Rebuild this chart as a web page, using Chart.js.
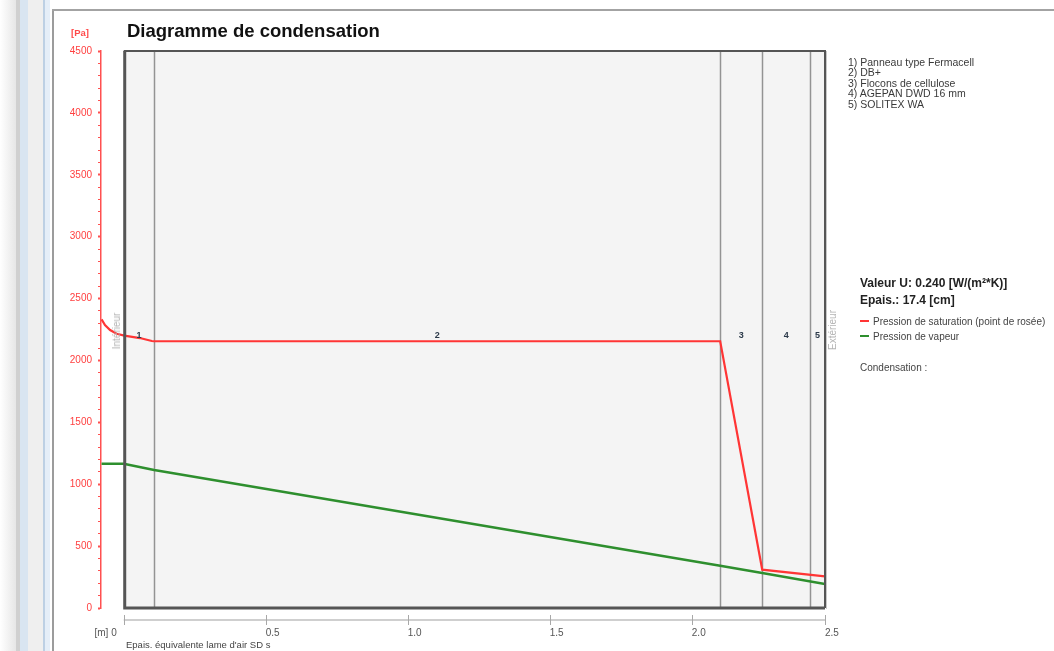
<!DOCTYPE html>
<html lang="fr">
<head>
<meta charset="utf-8">
<title>Diagramme de condensation</title>
<script src="https://cdn.jsdelivr.net/npm/chart.js@4/dist/chart.umd.min.js"></script>
<style>
  html, body { margin: 0; padding: 0; background: #ffffff; }
  body { width: 1054px; height: 651px; position: relative; overflow: hidden;
         font-family: "Liberation Sans", Arial, sans-serif; }
  .deco { position: absolute; }
  .t { position: absolute; white-space: nowrap; }
  #chartBox { position: absolute; left: 0; top: 0; width: 1054px; height: 651px; }
  .key { display: inline-block; width: 9px; height: 2px; vertical-align: middle; margin-right: 4px; position: relative; top: -1px; }
</style>
</head>
<body>
<!-- window chrome on the left and top edge of the panel -->
<div class="deco" style="left:0;top:0;width:16px;height:651px;background:linear-gradient(to right,#ffffff,#e6e6e6);"></div>
<div class="deco" style="left:16px;top:0;width:4px;height:651px;background:#d0d0d0;"></div>
<div class="deco" style="left:20px;top:0;width:8px;height:651px;background:#d9e5f1;"></div>
<div class="deco" style="left:28px;top:0;width:15px;height:651px;background:#efefef;"></div>
<div class="deco" style="left:43px;top:0;width:2px;height:651px;background:#bdd0e4;"></div>
<div class="deco" style="left:45px;top:0;width:5px;height:651px;background:#e5eef8;"></div>
<div class="deco" style="left:52px;top:10px;width:2px;height:641px;background:#9c9c9c;"></div>
<div class="deco" style="left:52px;top:9px;width:1002px;height:2px;background:#a3a3a3;"></div>

<div id="chartBox"><canvas id="chart" width="1054" height="651"></canvas></div>

<!-- titles and side panel -->
<div class="t" id="title" style="left:127px;font-size:18.5px;font-weight:bold;color:#111;">Diagramme de condensation</div>
<div class="t" id="unitY" style="left:71px;font-size:9.5px;font-weight:bold;color:#ff4a4a;">[Pa]</div>
<div id="layerList"></div>
<div class="t" id="uValue" style="left:860px;font-size:12px;font-weight:bold;color:#222;"></div>
<div class="t" id="thick" style="left:860px;font-size:12px;font-weight:bold;color:#222;"></div>
<div id="seriesKeys"></div>
<div class="t" id="condens" style="left:860px;font-size:10px;color:#444;">Condensation :</div>
<div class="t" id="xTitle" style="left:126px;font-size:9.5px;color:#444;">Epais. équivalente lame d'air SD s</div>
<div class="t" id="inside" style="font-size:10px;color:#b4b4b4;">Intérieur</div>
<div class="t" id="outside" style="font-size:10px;color:#b4b4b4;">Extérieur</div>

<script>
// ---- wall build-up (equivalent air layer thickness Sd, m) ----
const layerNames = [
  '1) Panneau type Fermacell',
  '2) DB+',
  '3) Flocons  de cellulose',
  '4) AGEPAN DWD 16 mm',
  '5) SOLITEX WA'
];
const layerNumbers = ['1', '2', '3', '4', '5'];
const layerEdges = [0, 0.107, 2.100, 2.248, 2.417, 2.469];

// saturation pressure (dew point), Pa
const satX = [-0.078, -0.066, -0.048, -0.025, 0.002, 0.057, 0.099, 0.107, 2.100, 2.248, 2.469];
const satY = [2332, 2286, 2246, 2216, 2200, 2181, 2157, 2155, 2155, 310, 255];

// vapour pressure, Pa
const vapX = [-0.078, 0.000, 0.107, 2.100, 2.248, 2.469];
const vapY = [1165, 1165, 1115, 342, 283, 194];

// axis ticks
const xTickValues = [0, 0.5, 1.0, 1.5, 2.0, 2.469];
const xTickLabels = ['[m] 0', '0.5', '1.0', '1.5', '2.0', '2.5'];
const yMin = 0, yMax = 4500, yMinorStep = 100, yMajorStep = 500;
const xMin = -0.08;

const seriesNames = ['Pression de saturation (point de rosée)', 'Pression de vapeur'];
const seriesColors = ['#ff3535', '#2e8f2e'];
const uValueText = 'Valeur U: 0.240 [W/(m²*K)]';
const thicknessText = 'Epais.: 17.4 [cm]';

// place a text element so that its alphabetic baseline sits at y
function atBaseline(el, y) {
  const fs = parseFloat(el.style.fontSize);
  el.style.lineHeight = fs + 'px';
  el.style.top = (y - 0.8465 * fs) + 'px';
}
function addText(parent, txt, x, y, fs, color) {
  const d = document.createElement('div');
  d.className = 't';
  d.style.left = x + 'px';
  d.style.fontSize = fs + 'px';
  d.style.color = color;
  d.textContent = txt;
  parent.appendChild(d);
  atBaseline(d, y);
  return d;
}

atBaseline(document.getElementById('title'), 38);
atBaseline(document.getElementById('unitY'), 36);
document.getElementById('uValue').textContent = uValueText;
document.getElementById('thick').textContent = thicknessText;
atBaseline(document.getElementById('uValue'), 287);
atBaseline(document.getElementById('thick'), 304);
atBaseline(document.getElementById('condens'), 371);
atBaseline(document.getElementById('xTitle'), 648);

const list = document.getElementById('layerList');
layerNames.forEach((n, i) => addText(list, n, 848, 65.5 + i * 10.6, 10.5, '#3a3a3a'));

const keys = document.getElementById('seriesKeys');
seriesNames.forEach((n, i) => {
  const d = addText(keys, '', 860, 325.5 + i * 14.5, 10, '#444');
  const sw = document.createElement('span');
  sw.className = 'key';
  sw.style.background = seriesColors[i];
  d.appendChild(sw);
  d.appendChild(document.createTextNode(n));
});

function rotated(id, cx, cy) {
  const el = document.getElementById(id);
  el.style.left = cx + 'px';
  el.style.top = cy + 'px';
  el.style.lineHeight = '10px';
  el.style.transform = 'translate(-50%,-50%) rotate(-90deg)';
}
rotated('inside', 117, 331);
rotated('outside', 833, 330);

// wall frame, layer interfaces, layer numbers and the Sd axis
const wallPlugin = {
  id: 'wallPlugin',
  beforeDatasetsDraw(chart) {
    const { ctx, scales: { x, y } } = chart;
    const L = x.getPixelForValue(layerEdges[0]);
    const R = x.getPixelForValue(layerEdges[layerEdges.length - 1]);
    const T = y.getPixelForValue(yMax);
    const B = y.getPixelForValue(yMin);
    ctx.save();
    ctx.fillStyle = '#f4f4f4';
    ctx.fillRect(L, T, R - L, B - T);
    ctx.strokeStyle = '#939393';
    ctx.lineWidth = 1.5;
    layerEdges.slice(1, -1).forEach(e => {
      const px = Math.round(x.getPixelForValue(e)) + 0.5;
      ctx.beginPath(); ctx.moveTo(px, T); ctx.lineTo(px, B); ctx.stroke();
    });
    ctx.restore();
  },
  afterDatasetsDraw(chart) {
    const { ctx, scales: { x, y } } = chart;
    const L = x.getPixelForValue(layerEdges[0]);
    const R = x.getPixelForValue(layerEdges[layerEdges.length - 1]);
    const T = y.getPixelForValue(yMax);
    const B = y.getPixelForValue(yMin);
    ctx.save();
    // frame
    ctx.strokeStyle = '#555555';
    ctx.lineWidth = 2;
    ctx.beginPath(); ctx.moveTo(L, T); ctx.lineTo(R, T); ctx.lineTo(R, B); ctx.stroke();
    ctx.lineWidth = 3;
    ctx.beginPath(); ctx.moveTo(L + 1, T); ctx.lineTo(L + 1, B); ctx.lineTo(R, B); ctx.stroke();
    ctx.strokeStyle = '#c8c8c8';
    ctx.lineWidth = 1;
    ctx.beginPath(); ctx.moveTo(R + 1.5, T); ctx.lineTo(R + 1.5, B + 1); ctx.stroke();

    // layer numbers
    ctx.font = 'bold 9px "Liberation Sans", Arial, sans-serif';
    ctx.fillStyle = '#2c3a4a';
    ctx.textAlign = 'center';
    ctx.textBaseline = 'middle';
    const ly = y.getPixelForValue(2200);
    layerNumbers.forEach((n, i) => {
      const cx = (x.getPixelForValue(layerEdges[i]) + x.getPixelForValue(layerEdges[i + 1])) / 2;
      ctx.fillText(n, cx, ly);
    });

    // Sd axis line with tick marks
    const ay = B + 12;
    ctx.strokeStyle = '#cfcfcf';
    ctx.lineWidth = 2;
    ctx.beginPath(); ctx.moveTo(L, ay); ctx.lineTo(R, ay); ctx.stroke();
    ctx.strokeStyle = '#a8a8a8';
    ctx.lineWidth = 1;
    xTickValues.forEach(v => {
      const px = Math.round(x.getPixelForValue(v)) + 0.5;
      ctx.beginPath(); ctx.moveTo(px, ay - 5); ctx.lineTo(px, ay + 5); ctx.stroke();
    });
    // first tick label sits left of its tick
    ctx.font = '10px "Liberation Sans", Arial, sans-serif';
    ctx.fillStyle = '#555';
    ctx.textAlign = 'right';
    ctx.fillText(xTickLabels[0], x.getPixelForValue(xTickValues[0]) - 7, B + 25);
    ctx.restore();
  }
};

const toPoints = (xs, ys) => xs.map((v, i) => ({ x: v, y: ys[i] }));

new Chart(document.getElementById('chart'), {
  type: 'line',
  data: {
    datasets: [
      { label: seriesNames[0], data: toPoints(satX, satY), borderColor: seriesColors[0],
        borderWidth: 2.2, pointRadius: 0, tension: 0, fill: false },
      { label: seriesNames[1], data: toPoints(vapX, vapY), borderColor: seriesColors[1],
        borderWidth: 2.5, pointRadius: 0, tension: 0, fill: false }
    ]
  },
  options: {
    responsive: false,
    devicePixelRatio: 1,
    animation: false,
    layout: { padding: { left: 0, top: 51, right: 229, bottom: 0 } },
    plugins: { legend: { display: false }, tooltip: { enabled: false }, title: { display: false } },
    scales: {
      x: {
        type: 'linear',
        min: xMin,
        max: layerEdges[layerEdges.length - 1],
        afterBuildTicks: s => { s.ticks = xTickValues.map(v => ({ value: v })); },
        afterFit: s => { s.height = 43; },
        grid: { display: false },
        border: { display: false },
        ticks: {
          autoSkip: false,
          maxRotation: 0,
          align: 'start',
          padding: 11,
          color: '#555',
          font: { family: '"Liberation Sans", Arial, sans-serif', size: 10 },
          callback: (v, i) => (i === 0 ? '' : xTickLabels[i])
        }
      },
      y: {
        type: 'linear',
        min: yMin,
        max: yMax,
        afterFit: s => { s.width = 101; },
        grid: {
          drawOnChartArea: false,
          drawTicks: true,
          tickLength: 3,
          tickColor: '#ff5050',
          tickWidth: c => (c.tick && c.tick.value % yMajorStep === 0 ? 2 : 1)
        },
        border: { display: true, color: '#ff5050', width: 1.5 },
        ticks: {
          stepSize: yMinorStep,
          autoSkip: false,
          padding: 6,
          color: '#ff4040',
          font: { family: '"Liberation Sans", Arial, sans-serif', size: 10 },
          callback: v => (v % yMajorStep === 0 ? String(v) : '')
        }
      }
    }
  },
  plugins: [wallPlugin]
});
</script>
</body>
</html>
